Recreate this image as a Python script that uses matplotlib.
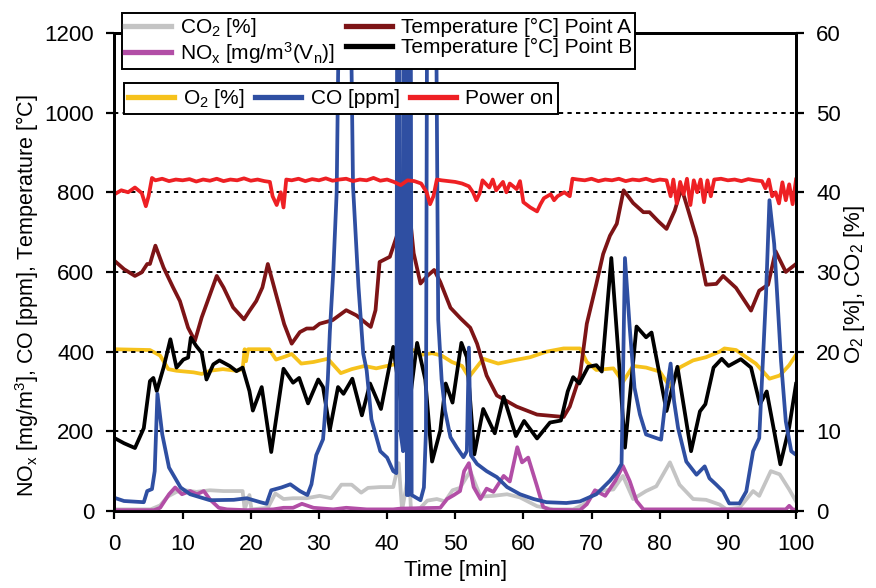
import matplotlib
matplotlib.use("Agg")
import matplotlib.pyplot as plt

plt.rcParams['font.family'] = ['Liberation Sans', 'DejaVu Sans']
plt.rcParams['mathtext.default'] = 'regular'

# Power on [left axis]
power_t = [0, 1, 2, 3, 4, 4.6, 5.0, 5.5, 6, 7,
           8, 9, 10, 11, 12, 13, 14, 15, 16, 17,
           18, 19, 20, 21, 22, 22.8, 23.2, 23.8, 24.4, 24.8,
           25.2, 26, 27, 28, 29, 30, 31, 32, 33, 34,
           35, 36, 37, 38, 39, 40, 41, 42, 43, 44,
           45, 45.8, 46.3, 46.8, 47.3, 48, 49, 50, 51, 52,
           52.6, 53.1, 53.6, 54, 55, 55.5, 56, 57, 57.5, 58,
           59, 59.5, 60, 61, 62, 62.5, 63, 64, 64.5, 65,
           66, 66.8, 67.2, 68, 69, 70, 71, 72, 73, 74,
           75, 76, 77, 78, 79, 80, 81, 81.6, 82, 82.5,
           83, 83.5, 84, 84.5, 85, 85.5, 86, 86.5, 87, 87.5,
           88, 89, 90, 91, 92, 93, 94, 95, 95.5, 96,
           96.5, 97, 97.5, 98, 98.5, 99, 99.5, 100]
power = [795, 805, 800, 812, 798, 765, 790, 836, 830, 834,
         828, 832, 830, 833, 827, 832, 829, 834, 828, 832,
         830, 835, 829, 832, 828, 826, 790, 768, 800, 762,
         832, 830, 834, 828, 833, 830, 835, 829, 832, 834,
         828, 832, 830, 836, 829, 832, 826, 818, 830, 828,
         822, 800, 770, 790, 832, 830, 828, 826, 822, 815,
         800, 780, 798, 830, 812, 832, 805, 826, 800, 822,
         808, 828, 775, 762, 752, 770, 785, 795, 780, 790,
         800, 790, 834, 832, 830, 834, 828, 832, 830, 834,
         828, 832, 830, 834, 828, 832, 830, 790, 832, 772,
         826, 795, 834, 768, 830, 800, 832, 775, 830, 790,
         832, 834, 830, 832, 828, 833, 830, 828, 810, 832,
         790, 800, 772, 825, 780, 820, 770, 832]

# Temperature point A
tempa_t = [0, 1.4, 3, 4, 4.8, 5.2, 6, 7.2, 8.6, 9.6,
           10.8, 11.8, 12.8, 13.5, 15, 16, 17.4, 19, 19.8, 20.8,
           21.7, 22.5, 23.7, 24.9, 26, 27.2, 28.2, 29.2, 30.1, 32,
           34, 35.5, 37, 37.6, 38.3, 38.9, 40.4, 41.4, 42.5, 43.4,
           43.9, 44.9, 45.9, 46.9, 47.8, 49.3, 50.8, 52.2, 53.2, 54.6,
           56.1, 59, 62, 65.9, 66.8, 68.3, 69.3, 70.7, 71.7, 72.7,
           73.7, 74.7, 76.1, 77.6, 78.5, 79.8, 81, 82.2, 83.2, 83.9,
           85.4, 86.8, 88.3, 89.3, 91.2, 93.4, 94.6, 95.9, 97, 98.5,
           100]
tempa = [628, 607, 590, 599, 620, 620, 666, 611, 561, 527,
         460, 427, 486, 519, 590, 561, 511, 481, 502, 527,
         561, 620, 544, 469, 420, 449, 458, 458, 470, 479,
         504, 491, 470, 462, 504, 625, 638, 689, 769, 731,
         647, 571, 590, 605, 575, 510, 483, 460, 420, 340,
         290, 262, 242, 236, 262, 340, 470, 570, 645, 691,
         721, 805, 773, 750, 750, 727, 708, 754, 810, 771,
         685, 568, 570, 590, 560, 503, 553, 568, 652, 600,
         620]

# Temperature point B
tempb_t = [0, 1.4, 3, 4.3, 5.2, 5.7, 6.2, 7.2, 8.2, 9.1,
           10.1, 10.8, 11.2, 12, 12.8, 13.5, 14.5, 15.4, 16.9, 17.9,
           18.8, 19.8, 20.3, 21.6, 23, 24.8, 26.2, 27.1, 28.4, 29.9,
           30.6, 31.6, 32.8, 33.6, 34.9, 36.3, 37.5, 39.1, 40.9, 42.7,
           44.4, 45.6, 46.6, 47.8, 48.6, 49.6, 50.9, 51.7, 52.8, 54.1,
           55.8, 57.1, 58.9, 60.1, 62, 63.9, 65.5, 66.5, 67.3, 68.2,
           69.5, 70.7, 71.5, 72.9, 73.9, 74.9, 76.6, 78, 78.8, 81,
           82.6, 84.6, 85.9, 86.7, 87.9, 89.1, 90.1, 91.9, 93.4, 94.7,
           95.7, 97.7, 99, 100]
tempb = [183, 170, 158, 208, 326, 334, 301, 360, 431, 360,
         380, 385, 435, 414, 397, 330, 368, 378, 364, 351,
         360, 301, 252, 311, 148, 357, 322, 334, 270, 330,
         311, 204, 311, 294, 332, 240, 320, 256, 412, 193,
         422, 330, 124, 202, 320, 272, 422, 386, 142, 256,
         195, 287, 188, 226, 182, 222, 227, 300, 336, 320,
         362, 366, 350, 635, 403, 159, 463, 436, 448, 251,
         362, 150, 250, 268, 360, 382, 364, 381, 360, 268,
         300, 117, 210, 319]

# O2 [%] (right axis)
o2_t = [0, 5.2, 6.7, 7.9, 9.1, 11.6, 12.8, 14, 15.9, 17.9,
        18.8, 19.1, 19.3, 19.6, 22.7, 23.7, 25.1, 26, 27.4, 29.2,
        31.3, 33.2, 34.8, 36.7, 38.4, 40.5, 41.7, 42.2, 42.7, 43.2,
        43.6, 45, 46.6, 48, 49.5, 51, 52, 54.1, 56.3, 58.5,
        61, 63.4, 65.9, 68.3, 69.3, 70.7, 73.2, 74.6, 76.1, 78,
        80, 81.5, 82.9, 84.9, 86.8, 88.8, 89.5, 91.2, 92.7, 94.1,
        96.1, 97.6, 99, 100]
o2 = [20.3, 20.2, 19.5, 17.8, 17.6, 17.4, 17.2, 17.6, 17.8, 17.6,
      17.8, 20.3, 18.8, 20.3, 20.3, 19.0, 19.4, 19.7, 18.5, 18.7,
      19.1, 17.3, 17.8, 18.2, 17.9, 18.3, 18.5, 16.2, 20.3, 17.0,
      20.3, 19.6, 19.8, 19.5, 18.7, 18.2, 16.8, 19.1, 18.5, 18.9,
      19.3, 20.0, 20.4, 20.4, 18.7, 17.7, 17.9, 16.2, 18.2, 18.0,
      17.5, 15.6, 18.0, 18.9, 19.3, 20.0, 20.4, 20.2, 19.3, 18.5,
      16.6, 17.0, 18.3, 19.6]

# CO [ppm] (peaks above 1200 run off the chart)
co_t = [0, 1.4, 4.3, 4.8, 5.5, 5.9, 6.3, 7, 8, 9.7,
        11.1, 14, 17.5, 19.4, 21.4, 22.3, 23, 24.5, 25.8, 27.2,
        28.3, 28.9, 29.6, 30.6, 31.3, 31.6, 32.1, 32.6, 33.1, 34.5,
        35, 35.8, 36.5, 37, 37.7, 39, 40, 40.9, 41.35, 41.5,
        41.8, 41.95, 42.35, 42.5, 42.75, 42.9, 43.15, 43.3, 43.45, 43.6,
        44.9, 45.4, 45.7, 45.9, 47.1, 47.5, 48, 48.5, 49.3, 50.2,
        51.2, 51.7, 52, 52.3, 53.2, 54.6, 56.1, 57.6, 59.5, 61.5,
        63.4, 66.3, 68.3, 70.7, 72.7, 73.7, 74.4, 74.9, 75.6, 76.3,
        77.1, 78, 79.5, 80.2, 81, 81.6, 82.1, 82.7, 83.9, 85.4,
        86.6, 87.3, 88.3, 89.3, 89.8, 90.2, 91.7, 92.7, 93.7, 94.6,
        95.6, 96.1, 96.8, 97.8, 98.5, 99.3, 100]
co = [33, 25, 22, 50, 55, 100, 294, 193, 109, 59,
      42, 27, 28, 32, 22, 18, 52, 59, 67, 50,
      40, 67, 140, 180, 330, 450, 600, 800, 1500, 1500,
      815, 563, 395, 353, 230, 150, 134, 100, 95, 1500,
      1500, 200, 150, 1500, 1500, 40, 40, 1500, 1500, 40,
      27, 59, 200, 1500, 1500, 480, 330, 252, 185, 160,
      135, 150, 410, 140, 118, 100, 85, 60, 42, 30,
      22, 20, 24, 42, 76, 97, 118, 635, 460, 309,
      242, 192, 183, 179, 300, 370, 276, 208, 124, 91,
      112, 82, 66, 49, 32, 19, 19, 49, 150, 183,
      544, 780, 670, 376, 225, 150, 141]

# CO2 [%] (right axis)
co2_t = [0, 5.3, 6.7, 7.8, 9.1, 10.4, 12, 14, 16, 18.8,
         19.1, 19.8, 20.1, 22.5, 23.6, 24.8, 26.2, 28.2, 30.1, 31.8,
         33.3, 34.8, 36.2, 37.2, 39, 40.9, 41.7, 42.2, 42.7, 43.2,
         43.5, 44.9, 45.9, 47.3, 48.5, 49.6, 50.7, 52.2, 53.7, 55.6,
         57.6, 59.5, 62, 64.4, 67.3, 68.8, 70.7, 73.2, 74.6, 76.1,
         78, 79.5, 81.5, 82.9, 84.9, 86.8, 88.8, 89.8, 91.7, 93.7,
         94.6, 96.3, 97.6, 99, 100]
co2 = [0.2, 0.2, 0.7, 1.8, 2.4, 2.6, 2.4, 2.6, 2.5, 2.5,
       0.2, 2.0, 0.2, 0.4, 2.2, 1.5, 1.6, 1.6, 1.9, 1.6,
       3.3, 3.3, 2.3, 2.9, 3.0, 3.0, 6.0, 0.1, 2.5, 5.5,
       0.1, 0.4, 1.3, 1.5, 1.2, 2.6, 2.9, 5.0, 1.8, 1.9,
       2.1, 1.7, 0.6, 0.2, 0.2, 0.8, 2.5, 2.7, 4.4, 1.5,
       2.5, 3.1, 6.1, 3.3, 1.5, 1.4, 0.8, 0.2, 0.4, 2.5,
       1.9, 5.0, 4.6, 2.7, 1.2]

# NOx [mg/m3]
nox_t = [0, 5.8, 6.7, 8, 8.9, 9.9, 11.1, 12.1, 13.1, 14,
         15.3, 16.5, 19.4, 23.3, 24.8, 26.2, 27.5, 29.2, 32.1, 34,
         37, 40.9, 42, 47.8, 48.8, 49.8, 50.7, 51.3, 52, 52.7,
         53.7, 54.6, 55.6, 57.1, 58, 59.1, 59.8, 60.7, 62, 62.9,
         63.9, 68.3, 69.3, 70.5, 72, 73.5, 74.6, 75.6, 76.6, 77.6,
         86.3, 98.5, 99, 99.5, 100]
nox = [2, 2, 8, 42, 59, 42, 50, 42, 50, 29,
       8, 4, 2, 4, 8, 8, 18, 8, 4, 8,
       4, 4, 6, 8, 30, 40, 50, 100, 120, 60,
       30, 56, 48, 88, 74, 160, 122, 134, 62, 10,
       3, 2, 17, 52, 38, 76, 113, 75, 25, 4,
       4, 4, 13, 4, 3]

fig = plt.figure(figsize=(8.76, 5.88), dpi=100)
ax = fig.add_axes([0.1307, 0.131, 0.778, 0.813])
ax2 = ax.twinx()
ax.set_zorder(ax2.get_zorder() + 1)
ax.patch.set_visible(False)

lw = 2.7
h_co2, = ax2.plot(co2_t, co2, color='#c4c4c4', lw=lw, label='CO$_2$ [%]')
h_nox, = ax.plot(nox_t, nox, color='#b24ea6', lw=lw, label='NO$_x$ [mg/m$^3$(V$_n$)]')
h_ta, = ax.plot(tempa_t, tempa, color='#7d1416', lw=lw, label='Temperature [°C] Point A')
h_tb, = ax.plot(tempb_t, tempb, color='black', lw=lw, label='Temperature [°C] Point B')
h_o2, = ax2.plot(o2_t, o2, color='#f6c21c', lw=lw, label='O$_2$ [%]')
h_co, = ax.plot(co_t, co, color='#2f4fa2', lw=lw, label='CO [ppm]')
h_pw, = ax.plot(power_t, power, color='#ee2024', lw=lw, label='Power on')

for yv in [200, 400, 600, 800, 1000]:
    ax.axhline(yv, color='black', lw=1.4, ls=(0, (2.2, 2.2)), zorder=0)

ax.set_xlim(0, 100)
ax.set_ylim(0, 1200)
ax2.set_ylim(0, 60)
ax.set_xticks(range(0, 101, 10))
ax.set_yticks(range(0, 1201, 200))
ax2.set_yticks(range(0, 61, 10))

for a in (ax, ax2):
    for s in a.spines.values():
        s.set_linewidth(2)
    a.tick_params(direction='out', length=5.5, width=1.6, labelsize=16, pad=9)
ax.tick_params(axis='x', pad=11)

ax.set_xlabel('Time [min]', fontsize=16, labelpad=4)
ax.set_ylabel('NO$_x$ [mg/m$^3$], CO [ppm], Temperature [°C]', fontsize=15.5)
ax.yaxis.set_label_coords(-0.108, 0.45)
ax2.set_ylabel('O$_2$ [%], CO$_2$ [%]', fontsize=16)
ax2.yaxis.set_label_coords(1.068, 0.473)

leg1 = ax.legend(handles=[h_co2, h_nox, h_ta, h_tb], ncol=2, loc='upper left',
                 bbox_to_anchor=(0.011, 1.042), borderaxespad=0, fontsize=15,
                 frameon=True, fancybox=False, framealpha=1, edgecolor='black',
                 handlelength=2.2, handletextpad=0.45, columnspacing=0.5,
                 labelspacing=0.05, borderpad=0.15)
leg1.get_frame().set_linewidth(1.4)
for l in leg1.get_lines():
    l.set_linewidth(3.8)
ax.add_artist(leg1)

leg2 = ax.legend(handles=[h_o2, h_co, h_pw], ncol=3, loc='upper left',
                 bbox_to_anchor=(0.014, 0.895), borderaxespad=0, fontsize=15,
                 frameon=True, fancybox=False, framealpha=1, edgecolor='black',
                 handlelength=2.2, handletextpad=0.45, columnspacing=0.5,
                 borderpad=0.2)
leg2.get_frame().set_linewidth(1.4)
for l in leg2.get_lines():
    l.set_linewidth(3.8)

fig.savefig('out.png', dpi=100)
